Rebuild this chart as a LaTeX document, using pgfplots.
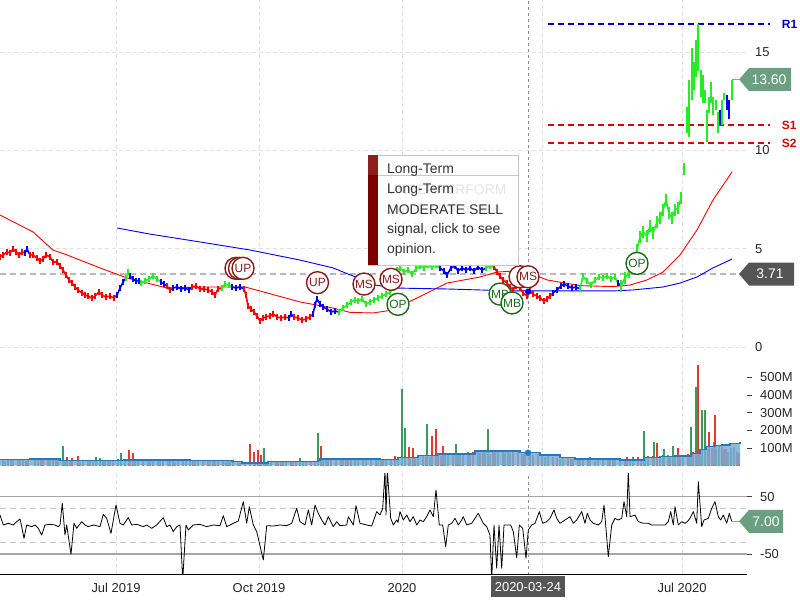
\documentclass[border=0pt]{standalone}
\usepackage{pgfplots}
\pgfplotsset{compat=1.18}
\usepackage{fontspec}
\setmainfont{Liberation Sans}
\definecolor{pred}{HTML}{FF0000}
\definecolor{pblue}{HTML}{0000FF}
\definecolor{pgreen}{HTML}{22EE22}
\definecolor{sigred}{HTML}{8B1A1A}
\definecolor{siggreen}{HTML}{1B6B1B}
\definecolor{volgreen}{HTML}{3C9A5C}
\definecolor{volred}{HTML}{E23A2E}
\definecolor{volarea}{HTML}{7AAED9}
\definecolor{volline}{HTML}{2878BE}
\definecolor{gridc}{HTML}{E0E0E0}
\definecolor{lblgreen}{HTML}{6AA081}
\definecolor{lblgray}{HTML}{555555}
\definecolor{tipred}{HTML}{7A0000}
\definecolor{tipred2}{HTML}{8E1E1E}
\definecolor{rone}{HTML}{0000CC}
\definecolor{sred}{HTML}{DD0000}
\pgfplotsset{
  panel/.style={scale only axis, width=747bp, xmin=0, xmax=747,
    axis line style={draw=none},
    xtick={116,259,402,542,682}, xticklabels={}, xmajorgrids,
    grid style={gridc, dash pattern=on 4bp off 3bp, line width=0.8bp},
    ytick pos=right, yticklabel pos=right,
    /pgf/number format/assume math mode=true,
    tick label style={font=\fontsize{13}{15}\selectfont, text=black!85},
    yticklabel style={anchor=west, inner sep=0pt},
    major tick length=0pt, xtick style={draw=none},
  },
  pbar/.style={line width=1.6bp, line join=round, mark=none, error bars/y dir=both, error bars/y fixed=#1, error bars/error mark=none, error bars/error bar style={line width=1.3bp}},
  pjump/.style={line width=1.5bp, mark=none, unbounded coords=jump},
  cross/.style={color=black!45, dash pattern=on 3bp off 3bp, line width=0.8bp, forget plot},
  sig/.style={only marks, mark=*, mark size=11bp, mark options={draw=#1, fill=white, line width=1.4bp}},
  siglab/.style={sig=#1, nodes near coords, point meta=explicit symbolic,
    every node near coord/.style={anchor=center, text=#1, font=\fontsize{12}{12}\selectfont}},
  vbar/.style={ycomb, mark=none, line width=1.2bp},
}
\begin{document}
\begin{tikzpicture}
\path[use as bounding box] (0bp,0bp) rectangle (800bp,600bp);
%================ PRICE PANEL
\begin{axis}[panel, at={(0bp,248bp)}, anchor=south west, height=352bp,
  ymin=-0.254, ymax=17.641, ytick={0,5,10,15}, ymajorgrids, clip=false,
  yticklabel style={xshift=8bp}]
\addplot[cross] coordinates {(528,-0.254) (528,17.641)};
\addplot[black!28, dash pattern=on 6bp off 4bp, line width=1.4bp, forget plot] coordinates {(0,3.71) (747,3.71)};
% resistance / support
\addplot[rone, dash pattern=on 6bp off 4bp, line width=1.2bp] coordinates {(548,16.42) (770,16.42)} node[right, xshift=8bp, font=\bfseries\fontsize{12}{12}\selectfont, text=rone] {R1};
\addplot[sred, dash pattern=on 6bp off 4bp, line width=1.2bp] coordinates {(548,11.29) (770,11.29)} node[right, xshift=8bp, font=\bfseries\fontsize{12}{12}\selectfont, text=sred] {S1};
\addplot[sred, dash pattern=on 6bp off 4bp, line width=1.2bp] coordinates {(548,10.37) (770,10.37)} node[right, xshift=8bp, font=\bfseries\fontsize{12}{12}\selectfont, text=sred] {S2};
% moving averages
\addplot[pred, line width=0.9bp] coordinates {(0,6.71)(33,5.85)(53,4.93)(67,4.68)(100,4.02)(127,3.51)(167,3.00)(200,3.05)(245,3.05)(267,2.75)(300,2.29)(333,1.98)(350,1.76)(373,1.73)(390,1.86)(413,2.39)(447,3.25)(480,3.56)(497,3.81)(513,3.86)(530,3.76)(547,3.41)(580,3.12)(613,3.07)(630,3.15)(647,3.41)(663,3.81)(680,4.68)(697,5.95)(713,7.47)(732,8.90)};
\addplot[pblue, line width=0.9bp] coordinates {(117,6.05)(150,5.74)(200,5.34)(250,4.93)(300,4.42)(333,4.02)(353,3.61)(375,3.15)(395,3.00)(413,2.98)(447,2.95)(480,2.90)(513,2.85)(547,2.85)(580,2.85)(613,2.85)(633,2.90)(663,3.05)(680,3.25)(697,3.56)(713,4.02)(732,4.47)};
% price bars
\addplot[pred, pbar=0.14] coordinates {(0,4.58)(3,4.68)(7,4.83)(10,4.78)(13,4.98)(16,4.83)(19,4.68)(22,4.83)(25,4.78)};
\addplot[pblue, pbar=0.14] coordinates {(25,4.78)(27,4.98)(30,4.68)};
\addplot[pred, pbar=0.14] coordinates {(30,4.68)(33,4.68)(37,4.52)(40,4.37)(43,4.47)(46,4.68)(50,4.58)(53,4.32)(57,4.32)(60,4.12)(63,3.91)(66,3.66)(69,3.41)(72,3.25)(75,3.05)(78,2.90)(82,2.75)(85,2.64)(88,2.59)(92,2.49)(95,2.59)(99,2.80)(102,2.64)(106,2.54)(110,2.59)(114,2.49)(117,2.64)};
\addplot[pblue, pbar=0.14] coordinates {(117,2.64)(120,3.00)(123,3.30)(126,3.51)};
\addplot[pgreen, pbar=0.14] coordinates {(126,3.51)(128,3.81)(130,3.61)};
\addplot[pblue, pbar=0.14] coordinates {(130,3.61)(133,3.46)(136,3.36)(139,3.36)(141,3.25)};
\addplot[pgreen, pbar=0.14] coordinates {(141,3.25)(145,3.36)(149,3.46)(153,3.61)(157,3.46)(161,3.30)};
\addplot[pblue, pbar=0.14] coordinates {(161,3.30)(164,3.20)(167,3.10)};
\addplot[pred, pbar=0.14] coordinates {(167,3.10)(170,2.90)(173,3.00)};
\addplot[pblue, pbar=0.14] coordinates {(173,3.00)(177,3.05)(181,2.95)(185,3.00)(189,2.90)(192,3.05)};
\addplot[pred, pbar=0.14] coordinates {(192,3.05)(196,3.10)(200,2.95)(204,2.95)(208,2.90)(212,2.80)(215,2.64)(218,2.95)(222,3.00)};
\addplot[pgreen, pbar=0.14] coordinates {(222,3.00)(225,3.20)(229,3.15)(232,3.05)};
\addplot[pblue, pbar=0.14] coordinates {(232,3.05)(236,3.00)(240,3.05)(244,2.95)};
\addplot[pred, pbar=0.14] coordinates {(244,2.95)(246,2.64)(248,2.08)(251,1.93)(254,1.78)(257,1.58)(260,1.32)(263,1.47)(266,1.53)(270,1.58)(273,1.68)(277,1.53)(281,1.47)(285,1.53)(289,1.47)};
\addplot[pblue, pbar=0.14] coordinates {(289,1.47)(291,1.68)(294,1.53)};
\addplot[pred, pbar=0.14] coordinates {(294,1.53)(298,1.47)(302,1.37)(306,1.42)(310,1.53)(313,1.68)};
\addplot[pblue, pbar=0.14] coordinates {(313,1.68)(315,2.14)(317,2.44)(320,2.19)(323,2.03)(327,1.93)(331,1.78)(335,1.83)(339,1.78)};
\addplot[pgreen, pbar=0.14] coordinates {(339,1.78)(343,1.98)(347,2.14)(351,2.29)(355,2.39)(358,2.34)(362,2.44)(366,2.19)(370,2.29)(374,2.39)(378,2.49)(382,2.59)(386,2.69)(390,2.80)(394,3.00)(397,3.91)(400,4.02)(404,3.81)(408,3.91)(412,3.71)(416,3.97)(420,4.12)(424,4.02)(428,4.17)(432,4.07)(436,4.17)(440,4.02)};
\addplot[pblue, pbar=0.16] coordinates {(440,4.02)(444,3.86)(447,3.66)(451,4.02)(455,4.12)(458,3.86)(462,4.02)(466,3.91)(470,4.02)(474,3.86)(478,4.07)(482,3.91)(486,4.02)};
\addplot[pgreen, pbar=0.14] coordinates {(486,4.02)(490,4.12)(494,4.07)};
\addplot[pred, pbar=0.16] coordinates {(494,4.07)(497,3.81)(500,3.61)(503,3.41)(507,3.25)(510,3.05)(513,2.90)(516,3.10)(520,3.00)(523,2.75)(527,2.59)(530,2.85)(533,2.69)(537,2.59)(540,2.49)(544,2.34)(547,2.44)(550,2.59)(553,2.75)};
\addplot[pblue, pbar=0.14] coordinates {(553,2.75)(557,2.90)(561,3.10)(564,3.20)(568,3.10)(572,3.00)(576,3.05)(580,2.95)};
\addplot[pgreen, pbar=0.16] coordinates {(580,2.95)(583,3.61)(587,3.36)(591,3.15)(595,3.41)(599,3.56)(603,3.51)(607,3.61)(611,3.46)(615,3.56)(618,3.25)};
\addplot[pblue, pbar=0.14] coordinates {(618,3.25)(621,3.10)};
\addplot[pgreen, pbar=0.3] coordinates {(621,3.10)(625,3.51)(629,3.81)(633,4.12)(637,4.93)(640,5.59)(643,5.85)(647,5.64)(650,6.15)(653,5.80)(657,6.36)(660,6.56)(663,6.97)(666,7.47)(669,6.81)(672,6.56)(675,6.97)(678,7.07)(681,7.57)};
\addplot[pgreen, pjump] coordinates {(684,8.75)(684,9.35)(684,nan)(687,10.88)(687,12.20)(687,nan)(689,10.68)(689,13.57)(689,nan)(692,12.56)(692,15.20)(692,nan)(694,13.07)(694,14.49)(694,nan)(696,13.73)(696,15.61)(696,nan)(698,14.03)(698,16.40)(698,nan)(701,12.71)(701,14.08)(701,nan)(703,12.40)(703,13.83)(703,nan)(705,12.40)(705,13.07)(705,nan)(707,10.42)(707,12.05)(707,nan)(709,11.90)(709,12.71)(709,nan)(711,12.40)(711,13.47)(711,nan)(713,11.80)(713,12.71)(713,nan)(716,12.05)(716,12.56)(716,nan)(718,10.88)(718,11.95)(718,nan)(722,11.29)(722,12.56)(722,nan)(724,12.56)(724,12.91)(724,nan)(732,12.56)(732,13.57)};
\addplot[pblue, pjump] coordinates {(720,11.29)(720,12.05)(720,nan)(727,12.05)(727,12.81)(727,nan)(729,11.59)(729,12.56)};
\addplot[pgreen, line width=0.8bp] coordinates {(732,13.60)(740,13.60)};
% crosshair point
\addplot[only marks, mark=*, mark size=2.8bp, pblue] coordinates {(528,2.81)};
% signal circles
\addplot[sig=sigred] coordinates {(236,4.00)(239.5,4.00)};
\addplot[siglab=sigred] table[meta=l] {
x y l
243 4.00 UP
317.5 3.27 UP
364 3.20 MS
391 3.44 MS
};
\addplot[sig=sigred] coordinates {(520,3.57)};
\addplot[siglab=sigred] table[meta=l] {
x y l
528 3.57 MS
};
\addplot[siglab=siggreen] table[meta=l] {
x y l
398 2.17 OP
500 2.69 MB
512 2.24 MB
637 4.25 OP
};
% value labels
\fill[lblgray] (axis cs:739,3.71) -- ++(10bp,11.5bp) -- ++(45bp,0bp) -- ++(0bp,-23bp) -- ++(-45bp,0bp) -- cycle;
\node[text=white, font=\fontsize{14}{14}\selectfont] at (axis cs:770,3.71) {3.71};
\fill[lblgreen] (axis cs:739,13.60) -- ++(10bp,11.5bp) -- ++(42bp,0bp) -- ++(0bp,-23bp) -- ++(-42bp,0bp) -- cycle;
\node[text=white, font=\fontsize{14}{14}\selectfont] at (axis cs:769,13.60) {13.60};
\end{axis}
%================ VOLUME PANEL
\begin{axis}[panel, at={(0bp,134.4bp)}, anchor=south west, height=110.6bp,
  ymin=0, ymax=628, ytick={100,200,300,400,500},
  yticklabels={100M,200M,300M,400M,500M},
  major tick length=5bp, tick align=outside,
  ytick style={draw=black!75, line width=0.8bp},
  yticklabel style={xshift=8bp}, clip=false]
\addplot[cross] coordinates {(528,-2) (528,640)};
\addplot[vbar, volgreen] coordinates {(3,30)(13,40)(23,33)(38,35)(48,40)(58,32)(83,28)(93,30)(108,26)(118,35)(138,30)(148,28)(158,32)(168,25)(183,30)(198,27)(213,30)(228,33)(238,28)(266,20)(276,24)(286,22)(306,26)(326,38)(336,42)(346,36)(366,40)(376,44)(386,38)(398,42)(418,55)(448,72)(468,75)(478,80)(498,86)(508,78)(548,55)(563,45)(573,40)(583,38)(598,35)(608,40)(633,50)(648,52)(668,58)(683,60)(700,95)(719,110)(734,105)
(5,28)(20,34)(35,30)(50,33)(65,25)(80,22)(105,24)(125,28)(135,26)(160,24)(175,22)(195,24)(210,26)(230,20)(255,15)(268,18)(283,20)(303,22)(323,30)(343,34)(358,30)(378,32)(395,30)(410,40)(430,50)(445,58)(460,62)(485,70)(505,74)(525,62)(545,50)(560,40)(580,30)(595,28)(615,30)(630,28)(645,40)(660,44)(675,48)(690,58)(705,90)(716,95)(731,100)
(63,111)(96,48)(100,45)(121,70)(190,40)(264,98)(300,42)(318,185)(355,45)(402,436)(405,214)(427,236)(456,122)(488,208)(490,60)(590,50)(620,45)(644,196)(654,134)(664,92)(673,110)(691,220)(696,447)(702,316)(705,316)(714,134)(728,75)};
\addplot[vbar, volred] coordinates {(8,35)(18,38)(28,32)(43,30)(53,36)(88,26)(103,30)(113,28)(143,32)(153,26)(163,30)(173,28)(178,26)(193,30)(203,32)(208,28)(218,30)(223,26)(233,30)(245,20)(271,24)(281,20)(291,23)(296,26)(311,28)(331,36)(341,40)(351,38)(371,42)(381,36)(391,40)(423,60)(438,65)(453,70)(463,72)(473,78)(483,85)(493,82)(503,88)(513,84)(518,80)(538,68)(553,50)(568,42)(578,38)(603,36)(613,38)(638,48)(653,55)(663,60)(688,65)(693,80)(712,100)(726,95)(737,80)
(11,30)(26,28)(41,34)(56,30)(70,26)(90,24)(110,26)(130,24)(150,28)(170,24)(186,26)(215,24)(226,22)(240,16)(260,14)(278,20)(293,22)(315,24)(328,32)(348,34)(363,36)(383,30)(405,38)(415,42)(426,48)(441,55)(458,60)(470,64)(480,70)(495,76)(510,72)(522,65)(533,60)(542,55)(557,44)(571,36)(588,30)(610,30)(625,28)(641,36)(670,46)(680,52)(697,80)(708,92)(724,96)(739,70)
(67,50)(72,45)(78,52)(129,88)(133,70)(250,122)(254,75)(258,88)(261,60)(321,111)(395,55)(409,105)(413,100)(432,170)(436,208)(443,110)(524,80)(530,60)(627,50)(657,130)(678,100)(698,572)(709,190)(715,288)(722,110)(731,70)};
\addplot[const plot, fill=volarea, fill opacity=0.85, draw=none] coordinates {(0,36)(30,38)(60,30)(124,32)(190,28)(232,22)(242,15)(268,22)(318,30)(320,37)(360,38)(380,36)(398,47)(418,56)(437,66)(475,83)(520,73)(540,60)(560,47)(575,38)(620,32)(644,45)(660,50)(675,55)(691,70)(700,90)(706,107)(715,115)(722,117)(730,125)(740,132)} \closedcycle;
\addplot[const plot, volline, line width=1.4bp] coordinates {(0,36)(30,38)(60,30)(124,32)(190,28)(232,22)(242,15)(268,22)(318,30)(320,37)(360,38)(380,36)(398,47)(418,56)(437,66)(475,83)(520,73)(540,60)(560,47)(575,38)(620,32)(644,45)(660,50)(675,55)(691,70)(700,90)(706,107)(715,115)(722,117)(730,125)(740,132)};
\addplot[only marks, mark=*, mark size=3bp, volline] coordinates {(528,73)};
\end{axis}
%================ OSCILLATOR PANEL
\begin{axis}[panel, at={(0bp,25bp)}, anchor=south west, height=102bp,
  ymin=-86.7, ymax=91.3, ytick={-50,50},
  xticklabels={Jul 2019,Oct 2019,2020,,Jul 2020},
  major tick length=5bp, tick align=outside,
  ytick style={draw=black!75, line width=0.8bp},
  yticklabel style={xshift=8bp}]
\addplot[cross] coordinates {(528,-86.7) (528,91.3)};
\addplot[black!35, line width=1.6bp, forget plot] coordinates {(0,50) (747,50)};
\addplot[black!35, line width=1.6bp, forget plot] coordinates {(0,-50) (747,-50)};
\addplot[black!22, dash pattern=on 6bp off 4bp, line width=1bp, forget plot] coordinates {(0,30) (747,30)};
\addplot[black!22, dash pattern=on 6bp off 4bp, line width=1bp, forget plot] coordinates {(0,-30) (747,-30)};
\addplot[black, line width=0.8bp, line join=round] coordinates {(0,18)(3.3,0.6)(8.3,3.5)(13.3,0.6)(16.7,6.4)(20,11)(21.7,-2.3)(24,-22.7)(26.7,0.6)(31.7,-2.3)(35,0.6)(38.3,-5.2)(41.7,-16.9)(45,0.6)(50,1.7)(55,0.6)(58.3,-2.3)(60,0.6)(62.3,38.4)(65,-16.9)(66.7,0.6)(71,-50.6)(74,3.5)(76.7,-5.2)(81.7,6.4)(85,0.6)(88.3,-2.3)(93.3,0.6)(100,-2.3)(103.3,19.2)(106.7,12.2)(111,-14)(116,35.5)(120,3.5)(123.3,0.6)(128.3,13.4)(131.7,0.6)(136.7,1.7)(143.3,-2.3)(146.7,0.6)(151.7,-5.2)(156.7,0.6)(163.3,13.4)(166.7,-2.3)(170,0.6)(173.3,-11)(176.7,-2.3)(180,0.6)(182.7,-95)(186,0.6)(188.3,-8.1)(193.3,0.6)(200,1.7)(206.7,-2.3)(213.3,0.6)(220,-0.6)(223.3,16.9)(226.7,-2.3)(233.3,3.5)(238.3,7.6)(243.3,41.3)(246.7,3.5)(249.3,32.6)(253.3,0.6)(256.7,-11)(263.3,-60.5)(266.7,-0.6)(273.3,-1.2)(280,0.6)(286.7,-0.6)(291.7,3.5)(296.7,29.7)(300,6.4)(305,0.6)(308.3,26.8)(311.7,0.6)(315,35.5)(318.3,21)(321.7,9.3)(325,0.6)(328.3,15.1)(333.3,-2.3)(336.7,6.4)(340,-0.6)(346.7,0.6)(348.3,15.1)(353.3,0.6)(356,34.3)(360,3.5)(366.7,0.6)(371.7,-1.2)(376.7,23.9)(380,18)(382.7,29.7)(385,95)(386,18)(387.3,95)(390.7,12.2)(393.3,0.6)(396.7,9.3)(398,5)(400,23.9)(403.3,9.3)(406.7,18)(410,6.4)(413.3,15.1)(416.7,0.6)(420,9.3)(423.3,6.4)(426.7,15.1)(430,26.8)(433.3,15.1)(436,61.7)(439.3,0.6)(442.7,0.6)(445.7,-37.2)(448.3,0.6)(451.7,3.5)(455,12.2)(458.3,0.6)(461.7,9.3)(463.3,15.1)(466.7,0.6)(471.7,3.5)(478.3,21)(483.3,3.5)(486.7,-2.3)(490,-16.9)(491.7,-95)(494,0.6)(496.7,-75)(499,0.6)(501.7,-75)(504,0.6)(510.7,0.6)(513.3,-11)(516.7,-56.5)(519.3,0.6)(522.7,-5.2)(526,-57.6)(528.3,-8.1)(531.7,0.6)(535,3.5)(539.3,23.9)(542.7,3.5)(546.7,6.4)(550,12.2)(554,26.8)(556.7,12.2)(560,3.5)(565,9.3)(570,15.1)(573.3,3.5)(576.7,9.3)(581.7,23.9)(585,3.5)(587.3,21)(590,9.3)(593.3,3.5)(598.3,0.6)(601.7,6.4)(604,35.5)(608.3,-54.7)(611.7,0.6)(615,12.2)(618.3,9.3)(621.7,12.2)(624,41.3)(626.7,15.1)(628.3,95)(630,15.1)(635,18)(638.3,6.4)(643.3,3.5)(648.3,3.5)(651.7,0.6)(665,0.6)(668.3,6.4)(670.7,23.9)(673.3,0.6)(675,32.6)(678.3,0.6)(681.7,6.4)(685,3.5)(687.3,6.4)(690,12.2)(693.3,23.9)(696.7,3.5)(698.3,76.2)(701.7,-2.3)(704,9.3)(708.3,12.2)(711.7,29.7)(715,41.3)(718.3,15.1)(720.7,9.3)(723.3,18)(726.7,3.5)(729.3,21)(731.7,7)};
\draw[black, line width=1.3bp] (rel axis cs:0,0) -- (rel axis cs:1,0);
\end{axis}
% value label and date label for the oscillator (outside clip)
\begin{axis}[panel, at={(0bp,25bp)}, anchor=south west, height=102bp,
  ymin=-86.7, ymax=91.3, ytick=\empty, xmajorgrids=false, clip=false]
\addplot[black!40, line width=0.8bp] coordinates {(732,7) (740,7)};
\fill[lblgreen] (axis cs:739,7) -- ++(10bp,11.5bp) -- ++(34bp,0bp) -- ++(0bp,-23bp) -- ++(-34bp,0bp) -- cycle;
\node[text=white, font=\fontsize{14}{14}\selectfont] at (axis cs:766,7) {7.00};
\node[fill=lblgray, text=white, font=\fontsize{13}{13}\selectfont, anchor=north, minimum height=21bp, inner xsep=4bp, yshift=-1bp] at (axis cs:528,-86.7) {2020-03-24};
\end{axis}
%================ TOOLTIP
\fill[white] (368bp,335bp) rectangle (518bp,445bp);
\draw[black!22, line width=0.8bp] (368bp,335bp) rectangle (518bp,445bp);
\fill[tipred] (368bp,335bp) rectangle (378bp,445bp);
\fill[tipred2] (368bp,425bp) rectangle (378bp,445bp);
\draw[black!22, line width=0.8bp] (378bp,425bp) -- (518bp,425bp);
\begin{scope}[every node/.style={anchor=west, inner sep=0pt, font=\fontsize{14}{14}\selectfont}]
\node[text=black!10] at (387bp,410bp) {UNDERPERFORM};
\node[text=black!8] at (387bp,390bp) {signal, click to see};
\node[text=black!8] at (387bp,370bp) {opinion.};
\node[text=black!80] at (387bp,430bp) {Long-Term};
\node[text=black!80] at (387bp,410bp) {Long-Term};
\node[text=black!80] at (387bp,390bp) {MODERATE SELL};
\node[text=black!80] at (387bp,370bp) {signal, click to see};
\node[text=black!80] at (387bp,350bp) {opinion.};
\end{scope}
\end{tikzpicture}
\end{document}
